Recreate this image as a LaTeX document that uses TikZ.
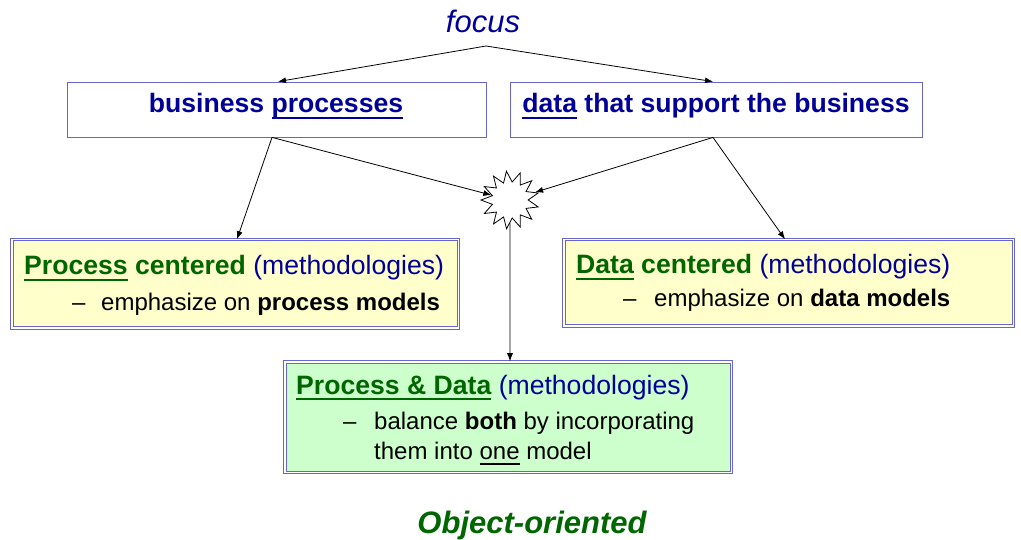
\documentclass[tikz,border=0pt]{standalone}
\usepackage{fontspec}
\setmainfont{Liberation Sans}
\usetikzlibrary{arrows.meta,shapes.geometric}
\definecolor{tblue}{HTML}{000099}
\definecolor{tgreen}{HTML}{006600}
\definecolor{bord}{HTML}{6666CC}
\definecolor{yfill}{HTML}{FFFFCC}
\definecolor{gfill}{HTML}{CCFFCC}
\newcommand\myul[1]{\setbox0\hbox{#1}\rlap{\rule[-6pt]{\wd0}{2pt}}\box0\relax}
\begin{document}
\begin{tikzpicture}[x=1pt,y=-1pt,
  topbox/.style={draw=bord, line width=0.8pt, minimum width=419pt, minimum height=55pt, inner sep=0pt, fill=white},
  methbox/.style={draw=bord, double=white, line width=1pt, double distance=1.5pt, inner sep=0pt},
  big/.style={font=\fontsize{26.6}{30}\selectfont},
  bigb/.style={font=\fontsize{26.6}{30}\selectfont\bfseries},
  small/.style={font=\fontsize{24}{28}\selectfont},
  txt/.style={anchor=base west, inner sep=0pt},
  arr/.style={-{Latex[length=8pt,width=6pt]}, line width=0.8pt},
  burst/.style={star, star points=13, star point ratio=1.6, minimum size=58pt, inner sep=0pt, draw, line width=0.8pt, fill=white}
]
\useasboundingbox (0,0) rectangle (1021,540);

% title texts
\node[anchor=base, inner sep=0pt, text=tblue, font=\fontsize{31}{34}\selectfont\itshape] (focus) at (483,33) {focus};
\node[anchor=base, inner sep=0pt, text=tgreen, font=\fontsize{31}{34}\selectfont\bfseries\itshape] (oo) at (532,533) {Object-oriented};

% top boxes
\node[topbox] (bp) at (276.5,109.5) {};
\node[topbox, minimum width=412pt] (ds) at (716,109.5) {};
\node[anchor=base, inner sep=0pt, bigb, text=tblue] (bpt) at (276,113) {business \myul{processes}};
\node[anchor=base, inner sep=0pt, bigb, text=tblue] (dst) at (716,113) {\myul{data} that support the business};

% methodology boxes
\node[methbox, fill=yfill, minimum width=446.5pt, minimum height=88.5pt] (pc) at (235,284) {};
\node[methbox, fill=yfill, minimum width=449.5pt, minimum height=86.5pt] (dc) at (788.5,283) {};
\node[methbox, fill=gfill, minimum width=446.5pt, minimum height=110.5pt] (pd) at (508,417) {};

% process centered text
\node[txt, big] (pc1) at (24,275) {\textcolor{tgreen}{\bfseries\myul{Process} centered} \textcolor{tblue}{(methodologies)}};
\node[txt, small] (pc2) at (72,311) {--};
\node[txt, small] (pc3) at (101,311) {emphasize on \textbf{process models}};

% data centered text
\node[txt, big] (dc1) at (576,274) {\textcolor{tgreen}{\bfseries\myul{Data} centered} \textcolor{tblue}{(methodologies)}};
\node[txt, small] (dc2) at (623,307) {--};
\node[txt, small] (dc3) at (654,307) {emphasize on \textbf{data models}};

% process & data text
\node[txt, big] (pd1) at (296,394) {\textcolor{tgreen}{\bfseries\myul{Process \& Data}} \textcolor{tblue}{(methodologies)}};
\node[txt, small] (pd2) at (343,429) {--};
\node[txt, small] (pd3) at (374,429) {balance \textbf{both} by incorporating};
\node[txt, small] (pd4) at (374,459) {them into \myul{one} model};

% starburst
\node[burst, rotate=7] (star) at (510,200) {};

% arrows
\coordinate (ftop) at (486,46);
\draw[arr] (ftop) -- ([xshift=1.5pt]bp.north);
\draw[arr] (ftop) -- ([xshift=-3pt]ds.north);
\draw[arr] ([xshift=-4.5pt]bp.south) -- ([xshift=2pt]pc.north);
\draw[arr] ([xshift=-4.5pt]bp.south) -- (star);
\draw[arr] ([xshift=-3pt]ds.south) -- ([xshift=-3.5pt]dc.north);
\draw[arr] ([xshift=-3pt]ds.south) -- (star);
\draw[arr] (star) -- ([xshift=2pt]pd.north);
\end{tikzpicture}
\end{document}
